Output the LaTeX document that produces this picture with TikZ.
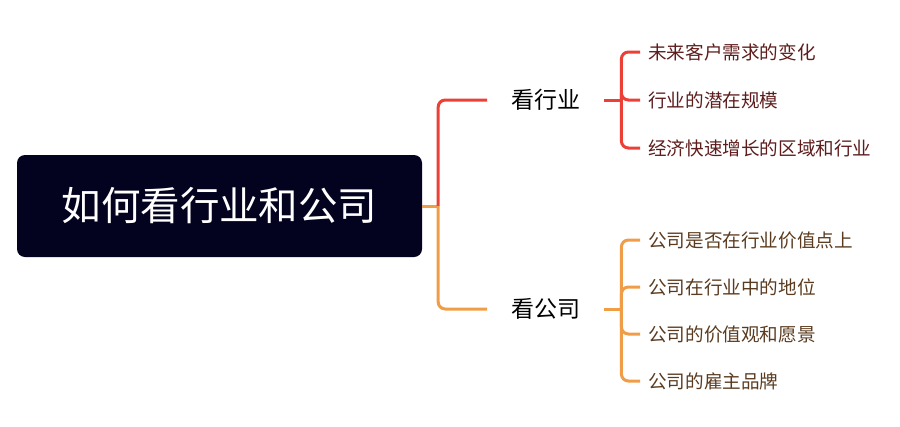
\documentclass[tikz,border=0pt]{standalone}
\usepackage{fontspec}
\newfontfamily\cjk{Noto Sans CJK SC}
\usetikzlibrary{positioning}
\definecolor{rootbg}{HTML}{03031F}
\definecolor{hyred}{HTML}{EC4036}
\definecolor{gsorange}{HTML}{F09D48}
\definecolor{hytext}{HTML}{5E1D1D}
\definecolor{gstext}{HTML}{5B3B20}

\begin{document}
\begin{tikzpicture}[
    x=1pt, y=-1pt,
    root/.style={rectangle, rounded corners=8pt, fill=rootbg, text=white, minimum width=405pt, minimum height=102pt, font=\cjk\fontsize{39.5}{39.5}\selectfont},
    topic/.style={anchor=west, inner xsep=24pt, inner ysep=2pt, font=\cjk\fontsize{23}{23}\selectfont},
    leaf/.style={anchor=west, inner xsep=8pt, inner ysep=2pt, font=\cjk\fontsize{18.6}{18.6}\selectfont},
    hyline/.style={draw=hyred, line width=3pt, rounded corners=7pt},
    gsline/.style={draw=gsorange, line width=3pt, rounded corners=7pt}
]
    \useasboundingbox (0,0) rectangle (900,426);

    \node[root] (root) at (219.5,206) {如何看行业和公司};
    \coordinate[right=16pt of root.east] (fork);

    \node[topic] (hy) at (487,100) {看行业};
    \node[topic] (gs) at (487,309) {看公司};

    \coordinate[right=17pt of hy.east] (hyfork);
    \coordinate[right=17pt of gs.east] (gsfork);

    % leaves
    \foreach \t [count=\i] in {未来客户需求的变化, 行业的潜在规模, 经济快速增长的区域和行业}
        \node[leaf, text=hytext] (hy\i) at (640, 4+48*\i) {\t};
    \foreach \t [count=\i] in {公司是否在行业价值点上, 公司在行业中的地位, 公司的价值观和愿景, 公司的雇主品牌}
        \node[leaf, text=gstext] (gs\i) at (640, 193+47*\i) {\t};

    % connectors
    \draw[gsline] (root.east) -- (fork);
    \draw[hyline] (fork) |- (hy.west);
    \draw[gsline] (fork) |- (gs.west);
    \draw[hyline] (hy.east) -- (hyfork);
    \draw[gsline] (gs.east) -- (gsfork);
    \foreach \i in {1,2,3}
        \draw[hyline] (hyfork) |- (hy\i.west);
    \foreach \i in {1,...,4}
        \draw[gsline] (gsfork) |- (gs\i.west);
\end{tikzpicture}
\end{document}
